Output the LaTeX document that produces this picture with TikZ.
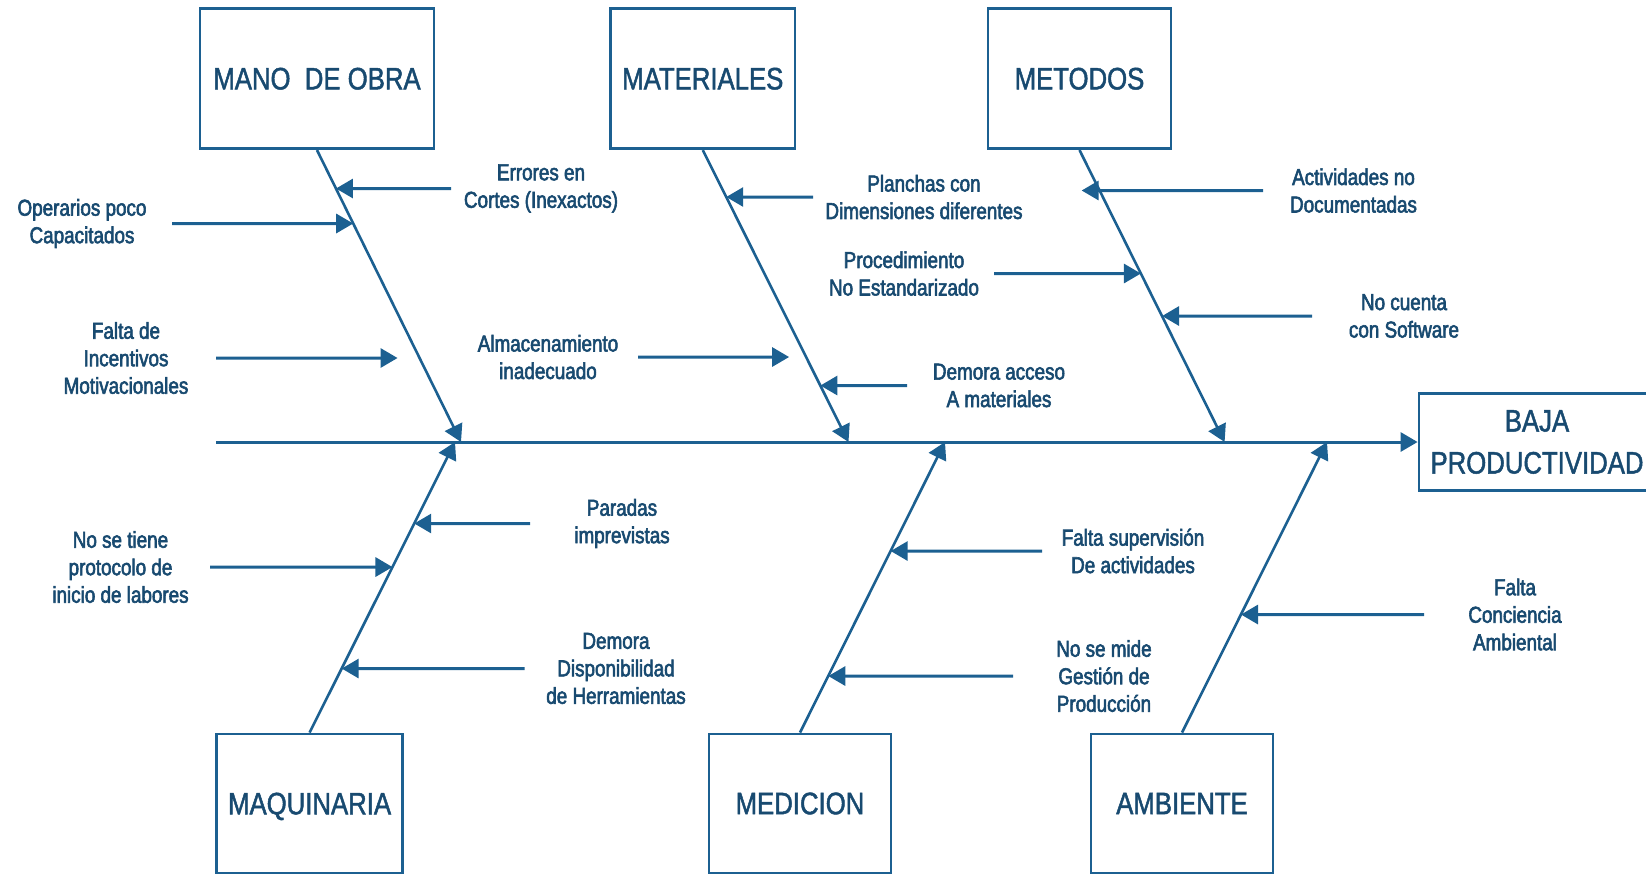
\documentclass[tikz,border=0pt]{standalone}
\usepackage{fontspec}
\setmainfont{Liberation Sans}[FakeStretch=0.83]
\newfontfamily\boxfont{Liberation Sans}[FakeStretch=0.83,FakeBold=1.5]
\newfontfamily\causefont{Liberation Sans}[FakeStretch=0.82,FakeBold=2.5]
\usetikzlibrary{positioning,calc,arrows.meta}
\definecolor{fishblue}{RGB}{28,96,145}
\definecolor{fishtext}{RGB}{24,74,112}

\begin{document}
\begin{tikzpicture}[
  x=1pt, y=-1pt,
  category/.style={
    draw=fishblue,
    line width=2.8pt,
    inner sep=0pt,
    minimum height=140pt,
    text=fishtext,
    font=\boxfont\fontsize{31}{42}\selectfont,
    align=center,
  },
  cause label/.style={
    inner sep=0pt,
    align=center,
    text=fishtext,
    font=\causefont\fontsize{23}{27.5}\selectfont,
  },
  spine/.style={
    draw=fishblue,
    line width=2.6pt,
    -{Triangle[length=17pt,width=19pt]},
  },
  cause/.style={
    draw=fishblue,
    line width=3pt,
    -{Triangle[length=17pt,width=19pt]},
  },
  ]
  \useasboundingbox (0,0) rectangle (1646,875);
  \clip (0,0) rectangle (1646,875);

  % categories
  \node[category,minimum width=234pt] (mano) at (317,78.7) {MANO~~DE OBRA};
  \node[category,minimum width=184.5pt] (materiales) at (702.8,78.7) {MATERIALES};
  \node[category,minimum width=183pt] (metodos) at (1079.5,78.7) {METODOS};
  \node[category,minimum width=186pt,minimum height=139pt,text depth=0pt] (maquinaria) at (309.6,803.5) {MAQUINARIA};
  \node[category,minimum width=182pt,minimum height=139pt] (medicion) at (800,803.5) {MEDICION};
  \node[category,minimum width=182pt,minimum height=139pt] (ambiente) at (1182,803.5) {AMBIENTE};
  \node[category,minimum width=236pt,minimum height=97pt] (baja) at (1537,442) {BAJA\\PRODUCTIVIDAD};

  % main line and spines
  \coordinate (spine-start) at (216,442);
  \coordinate (mano-end) at (461,442);
  \coordinate (materiales-end) at (848.5,442);
  \coordinate (metodos-end) at (1224.6,442);
  \coordinate (maquinaria-end) at (455,442);
  \coordinate (medicion-end) at (945,442);
  \coordinate (ambiente-end) at (1327,442);

  \draw[cause] (spine-start) -- (spine-start -| baja.west);
  \draw[spine] (mano.south) -- (mano-end);
  \draw[spine] (materiales.south) -- (materiales-end);
  \draw[spine] (metodos.south) -- (metodos-end);
  \draw[spine] (maquinaria.north) -- (maquinaria-end);
  \draw[spine] (medicion.north) -- (medicion-end);
  \draw[spine] (ambiente.north) -- (ambiente-end);

  % causes
  \node[cause label] (operarios) at (82,223.5) {Operarios poco\\Capacitados};
  \node[cause label] (errores) at (541,188.5) {Errores en\\Cortes (Inexactos)};
  \node[cause label] (incentivos) at (126,358) {Falta de\\Incentivos\\Motivacionales};
  \node[cause label] (almacenamiento) at (548,357) {Almacenamiento\\inadecuado};
  \node[cause label] (planchas) at (924,197) {Planchas con\\Dimensiones diferentes};
  \node[cause label] (procedimiento) at (904,273.5) {Procedimiento\\No Estandarizado};
  \node[cause label] (demora-acceso) at (999,385.5) {Demora acceso\\A materiales};
  \node[cause label] (actividades) at (1353.5,190.5) {Actividades no\\Documentadas};
  \node[cause label] (software) at (1404,316) {No cuenta\\con Software};
  \node[cause label] (paradas) at (622,523.5) {Paradas\\imprevistas};
  \node[cause label] (protocolo) at (120.5,567) {No se tiene\\protocolo de\\inicio de labores};
  \node[cause label] (herramientas) at (616,668.5) {Demora\\Disponibilidad\\de Herramientas};
  \node[cause label] (supervision) at (1133,551) {Falta supervisión\\De actividades};
  \node[cause label] (gestion) at (1104,676) {No se mide\\Gestión de\\Producción};
  \node[cause label] (conciencia) at (1515,614.5) {Falta\\Conciencia\\Ambiental};

  \draw[cause] (operarios.east -| 172,0) -- (intersection of operarios.west--operarios.east and mano.south--mano-end);
  \draw[cause] (errores.west -| 451,0) -- (intersection of errores.west--errores.east and mano.south--mano-end);
  \draw[cause,shorten >=22pt] (incentivos.east -| 216,0) -- (intersection of incentivos.west--incentivos.east and mano.south--mano-end);
  \draw[cause,shorten >=17pt] (almacenamiento.east -| 638,0) -- (intersection of almacenamiento.west--almacenamiento.east and materiales.south--materiales-end);
  \draw[cause] (planchas.west -| 813,0) -- (intersection of planchas.west--planchas.east and materiales.south--materiales-end);
  \draw[cause] (procedimiento.east -| 994,0) -- (intersection of procedimiento.west--procedimiento.east and metodos.south--metodos-end);
  \draw[cause] (demora-acceso.west -| 907,0) -- (intersection of demora-acceso.west--demora-acceso.east and materiales.south--materiales-end);
  \draw[cause,shorten >=-18pt] (actividades.west -| 1263,0) -- (intersection of actividades.west--actividades.east and metodos.south--metodos-end);
  \draw[cause] (software.west -| 1312,0) -- (intersection of software.west--software.east and metodos.south--metodos-end);
  \draw[cause] (paradas.west -| 530,0) -- (intersection of paradas.west--paradas.east and maquinaria.north--maquinaria-end);
  \draw[cause] (protocolo.east -| 210,0) -- (intersection of protocolo.west--protocolo.east and maquinaria.north--maquinaria-end);
  \draw[cause] (herramientas.west -| 524.5,0) -- (intersection of herramientas.west--herramientas.east and maquinaria.north--maquinaria-end);
  \draw[cause] (supervision.west -| 1042,0) -- (intersection of supervision.west--supervision.east and medicion.north--medicion-end);
  \draw[cause] (gestion.west -| 1013,0) -- (intersection of gestion.west--gestion.east and medicion.north--medicion-end);
  \draw[cause] (conciencia.west -| 1424,0) -- (intersection of conciencia.west--conciencia.east and ambiente.north--ambiente-end);
\end{tikzpicture}
\end{document}
